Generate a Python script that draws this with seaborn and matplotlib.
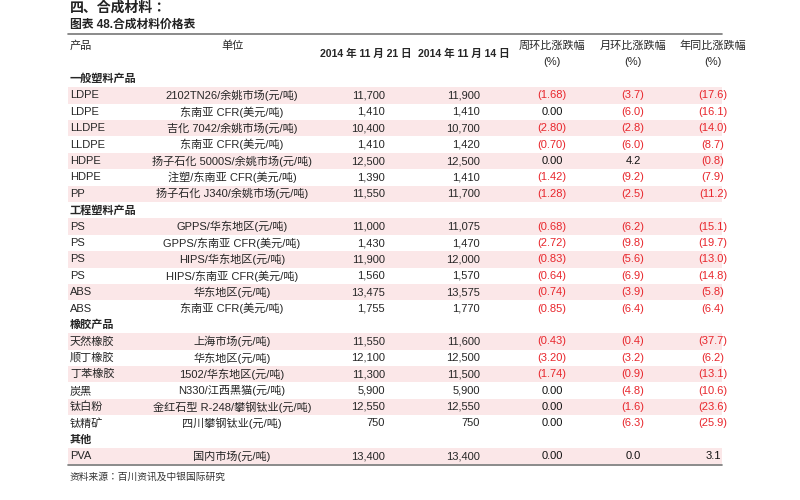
import matplotlib
matplotlib.use("Agg")
import matplotlib.pyplot as plt
from matplotlib import font_manager as fm
import seaborn as sns
import glob

sns.set_theme(style="white")


def find_cjk():
    names = [f.name for f in fm.fontManager.ttflist if "CJK" in f.name]
    for pref in ["Noto Sans CJK SC", "Noto Sans CJK JP"]:
        if pref in names:
            return pref
    sans = [n for n in names if "Sans" in n]
    return sans[0] if sans else (names[0] if names else None)


cjk_name = find_cjk()
if cjk_name is None:
    for p in glob.glob("/usr/share/fonts/**/*", recursive=True):
        if "CJK" in p or "cjk" in p:
            try:
                fm.fontManager.addfont(p)
            except Exception:
                pass
    cjk_name = find_cjk()
plt.rcParams["font.family"] = ["Liberation Sans", cjk_name or "Noto Sans CJK SC"]

groups = ["一般塑料产品", "工程塑料产品", "橡胶产品", "其他"]
products = [
    ["LDPE", "LDPE", "LLDPE", "LLDPE", "HDPE", "HDPE", "PP"],
    ["PS", "PS", "PS", "PS", "ABS", "ABS"],
    ["天然橡胶", "顺丁橡胶", "丁苯橡胶", "炭黑", "钛白粉", "钛精矿"],
    ["PVA"],
]
units = [
    ["2102TN26/余姚市场(元/吨)", "东南亚 CFR(美元/吨)", "吉化 7042/余姚市场(元/吨)", "东南亚 CFR(美元/吨)",
     "扬子石化 5000S/余姚市场(元/吨)", "注塑/东南亚 CFR(美元/吨)", "扬子石化 J340/余姚市场(元/吨)"],
    ["GPPS/华东地区(元/吨)", "GPPS/东南亚 CFR(美元/吨)", "HIPS/华东地区(元/吨)", "HIPS/东南亚 CFR(美元/吨)",
     "华东地区(元/吨)", "东南亚 CFR(美元/吨)"],
    ["上海市场(元/吨)", "华东地区(元/吨)", "1502/华东地区(元/吨)", "N330/江西黑猫(元/吨)",
     "金红石型 R-248/攀钢钛业(元/吨)", "四川攀钢钛业(元/吨)"],
    ["国内市场(元/吨)"],
]
price_1121 = [
    ["11,700", "1,410", "10,400", "1,410", "12,500", "1,390", "11,550"],
    ["11,000", "1,430", "11,900", "1,560", "13,475", "1,755"],
    ["11,550", "12,100", "11,300", "5,900", "12,550", "750"],
    ["13,400"],
]
price_1114 = [
    ["11,900", "1,410", "10,700", "1,420", "12,500", "1,410", "11,700"],
    ["11,075", "1,470", "12,000", "1,570", "13,575", "1,770"],
    ["11,600", "12,500", "11,500", "5,900", "12,550", "750"],
    ["13,400"],
]
wow = [
    ["(1.68)", "0.00", "(2.80)", "(0.70)", "0.00", "(1.42)", "(1.28)"],
    ["(0.68)", "(2.72)", "(0.83)", "(0.64)", "(0.74)", "(0.85)"],
    ["(0.43)", "(3.20)", "(1.74)", "0.00", "0.00", "0.00"],
    ["0.00"],
]
mom = [
    ["(3.7)", "(6.0)", "(2.8)", "(6.0)", "4.2", "(9.2)", "(2.5)"],
    ["(6.2)", "(9.8)", "(5.6)", "(6.9)", "(3.9)", "(6.4)"],
    ["(0.4)", "(3.2)", "(0.9)", "(4.8)", "(1.6)", "(6.3)"],
    ["0.0"],
]
yoy = [
    ["(17.6)", "(16.1)", "(14.0)", "(8.7)", "(0.8)", "(7.9)", "(11.2)"],
    ["(15.1)", "(19.7)", "(13.0)", "(14.8)", "(5.8)", "(6.4)"],
    ["(37.7)", "(6.2)", "(13.1)", "(10.6)", "(23.6)", "(25.9)"],
    ["3.1"],
]

fig = plt.figure(figsize=(8, 5), dpi=100)
ax = fig.add_axes([0, 0, 1, 1])
ax.set_xlim(0, 800)
ax.set_ylim(500, 0)
ax.axis("off")

fs = 8
red = "#e8262c"
ax.text(70, 8, "四、合成材料：", fontsize=10, weight="bold", va="center", color="#222")
ax.text(70, 25, "图表 48.合成材料价格表", fontsize=8.5, weight="bold", va="center", color="#222")
ax.plot([68, 722], [34, 34], color="#777", lw=1.2)
ax.text(70, 46, "产品", fontsize=fs, va="center")
ax.text(232, 46, "单位", fontsize=fs, va="center", ha="center")
ax.text(366, 54, "2014 年 11 月 21 日", fontsize=7.6, va="center", ha="center", weight="bold")
ax.text(464, 54, "2014 年 11 月 14 日", fontsize=7.6, va="center", ha="center", weight="bold")
for cx, t in [(552, "周环比涨跌幅"), (633, "月环比涨跌幅"), (713, "年同比涨跌幅")]:
    ax.text(cx, 46, t, fontsize=fs, va="center", ha="center")
    ax.text(cx, 62, "(%)", fontsize=fs, va="center", ha="center")

y = 79
step = 16.4
for gi, g in enumerate(groups):
    ax.text(70, y, g, fontsize=fs, va="center", weight="bold")
    y += step
    for ri in range(len(products[gi])):
        if ri % 2 == 0:
            ax.add_patch(plt.Rectangle((68, y - step / 2), 654, step, color="#fbe7e8", lw=0))
        ax.text(70, y, products[gi][ri], fontsize=fs, va="center")
        ax.text(232, y, units[gi][ri], fontsize=fs, va="center", ha="center")
        ax.text(385, y, price_1121[gi][ri], fontsize=fs, va="center", ha="right")
        ax.text(480, y, price_1114[gi][ri], fontsize=fs, va="center", ha="right")
        for cx, arr in [(552, wow), (633, mom), (713, yoy)]:
            v = arr[gi][ri]
            ax.text(cx, y, v, fontsize=fs, va="center", ha="center",
                    color=red if v.startswith("(") else "#111")
        y += step
ax.plot([68, 722], [y - step / 2 + 1, y - step / 2 + 1], color="#777", lw=1.2)
ax.text(70, y + 4, "资料来源：百川资讯及中银国际研究", fontsize=7, va="center", color="#333")

fig.savefig("out.png", dpi=100)
